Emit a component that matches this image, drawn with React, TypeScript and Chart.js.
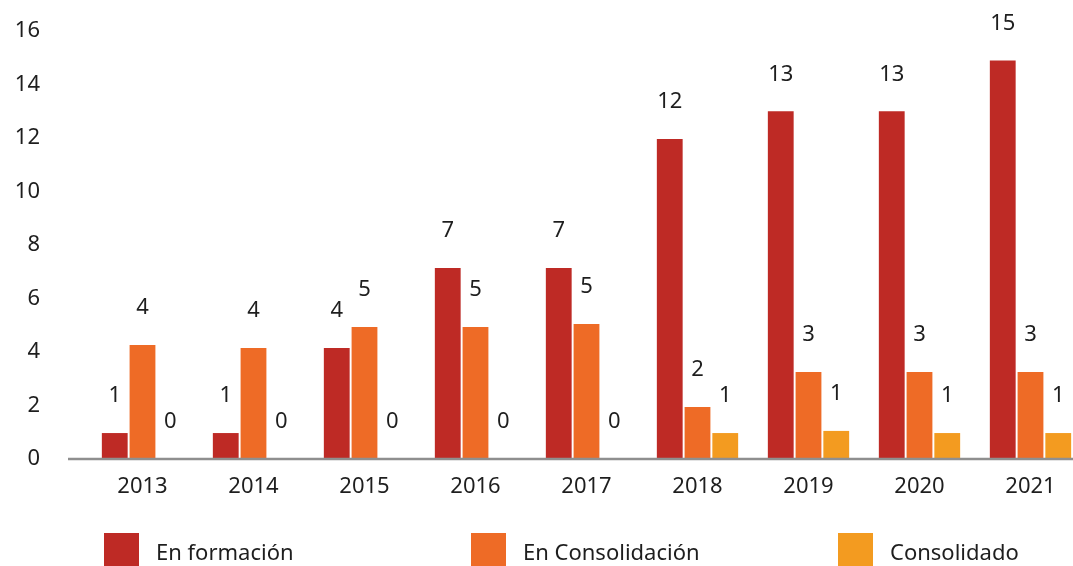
import React, { useEffect, useRef } from "react";
import { Chart, registerables } from "chart.js";

Chart.register(...registerables);

const categories = ["2013", "2014", "2015", "2016", "2017", "2018", "2019", "2020", "2021"];
const enFormacion = [0.97, 0.97, 4.15, 7.14, 7.14, 11.96, 13.0, 13.0, 14.9];
const enConsolidacion = [4.26, 4.15, 4.93, 4.93, 5.05, 1.94, 3.25, 3.25, 3.25];
const consolidado = [0, 0, 0, 0, 0, 0.97, 1.05, 0.97, 0.97];
const seriesNames = ["En formación", "En Consolidación", "Consolidado"];
const seriesColors = ["#BE2A25", "#EE6B26", "#F39B20"];

const FONT = "'Noto Sans', sans-serif";
const TEXT = "#1e1e1e";

const valueLabels = {
  id: "valueLabels",
  afterDatasetsDraw(chart: any) {
    const ctx = chart.ctx;
    ctx.save();
    ctx.font = `22px ${FONT}`;
    ctx.fillStyle = TEXT;
    ctx.textAlign = "center";
    ctx.textBaseline = "middle";
    chart.data.datasets.forEach((ds: any, di: number) => {
      const meta = chart.getDatasetMeta(di);
      meta.data.forEach((bar: any, i: number) => {
        const v = ds.data[i];
        ctx.fillText(String(Math.round(v)), bar.x, bar.y - 37);
      });
    });
    ctx.restore();
  },
};

const baseline = {
  id: "baseline",
  afterDatasetsDraw(chart: any) {
    const { ctx, chartArea } = chart;
    ctx.save();
    ctx.strokeStyle = "#8f8f8f";
    ctx.lineWidth = 2.5;
    ctx.beginPath();
    ctx.moveTo(chartArea.left - 19, chartArea.bottom);
    ctx.lineTo(chart.width, chartArea.bottom);
    ctx.stroke();
    ctx.restore();
  },
};

const customLegend = {
  id: "customLegend",
  afterDraw(chart: any) {
    const ctx = chart.ctx;
    ctx.save();
    ctx.font = `22px ${FONT}`;
    ctx.textBaseline = "middle";
    ctx.textAlign = "left";
    chart.data.datasets.forEach((ds: any, i: number) => {
      const x = 104 + i * 367;
      ctx.fillStyle = ds.backgroundColor;
      ctx.fillRect(x, 533, 35, 40);
      ctx.fillStyle = TEXT;
      ctx.fillText(ds.label, x + 52, 554);
    });
    ctx.restore();
  },
};

export default function App() {
  const ref = useRef<HTMLCanvasElement>(null);
  useEffect(() => {
    if (!ref.current) return;
    const chart = new Chart(ref.current, {
      type: "bar",
      data: {
        labels: categories,
        datasets: [enFormacion, enConsolidacion, consolidado].map((d, i) => ({
          label: seriesNames[i],
          data: d,
          backgroundColor: seriesColors[i],
          borderWidth: 0,
          categoryPercentage: 0.75,
          barPercentage: 0.93,
        })),
      },
      options: {
        responsive: false,
        animation: false,
        layout: { padding: { top: 31, right: 4, left: 0, bottom: 0 } },
        plugins: { legend: { display: false }, tooltip: { enabled: false } },
        scales: {
          x: {
            grid: { display: false, drawTicks: false },
            border: { display: false },
            ticks: { color: TEXT, font: { family: FONT, size: 22 }, padding: 15 },
            afterFit: (s: any) => { s.height = 107; },
          },
          y: {
            min: 0,
            max: 16,
            grid: { display: false, drawTicks: false },
            border: { display: false },
            ticks: { stepSize: 2, color: TEXT, font: { family: FONT, size: 22 }, padding: 47 },
            afterFit: (s: any) => {
              s.width = 87;
              s.paddingTop = 0;
              s.paddingBottom = 0;
            },
          },
        },
      },
      plugins: [baseline, valueLabels, customLegend],
    });
    return () => chart.destroy();
  }, []);
  return (
    <div style={{ position: "fixed", left: 0, top: 0, width: 1073, height: 566, overflow: "hidden", background: "#fff" }}>
      <canvas ref={ref} width={1090} height={566} style={{ display: "block", width: 1090, height: 566 }} />
    </div>
  );
}
